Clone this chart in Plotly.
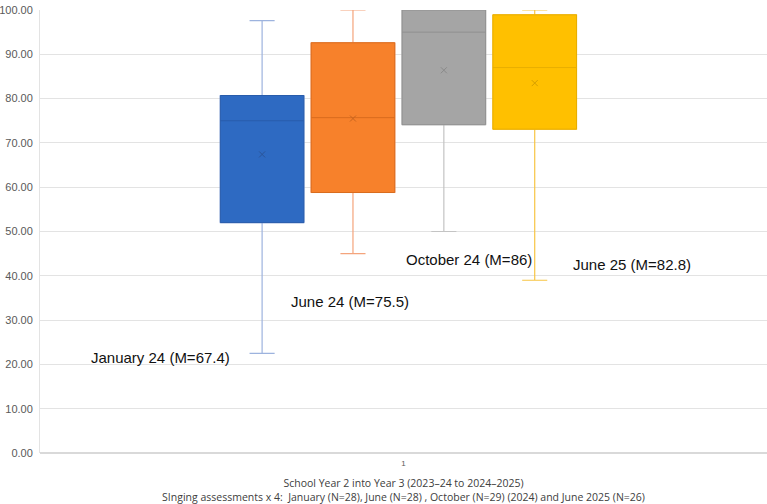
import plotly.graph_objects as go

# ---- data ----
series = ["January 24", "June 24", "October 24", "June 25"]
lower = [22.5, 45.0, 50.0, 39.0]
q1 = [52.0, 58.8, 74.1, 73.1]
median = [75.0, 75.7, 95.0, 87.0]
q3 = [80.7, 92.6, 100.0, 98.9]
upper = [97.6, 100.0, 100.0, 100.0]
means = [67.4, 75.5, 86.4, 83.5]
labels = ["January 24 (M=67.4)", "June 24 (M=75.5)", "October 24 (M=86)", "June 25 (M=82.8)"]
tick_labels = ["1"]

# ---- styles ----
fills = ["#2E6AC2", "#F7812B", "#A5A5A5", "#FFC000"]
med_cols = ["#285CAB", "#D96C1E", "#909090", "#E8AE00"]
whisk_cols = ["#9DB3DE", "#F4A47C", "#C4C4C4", "#F7C544"]
mean_cols = ["#2A5599", "#C8651F", "#8A8A8A", "#D49E00"]
label_pos = [(0.068, 21.6), (0.343, 34.3), (0.500, 43.7), (0.731, 42.6)]

n = len(series)
group_frac = 0.5
slot = group_frac / n
positions = [-group_frac / 2 + slot * (i + 0.5) - 0.007 for i in range(n)]
box_w = slot * 0.92

fig = go.Figure()
for i in range(n):
    fig.add_trace(go.Box(
        x=[positions[i]], q1=[q1[i]], median=[median[i]], q3=[q3[i]],
        lowerfence=[lower[i]], upperfence=[upper[i]],
        width=box_w, whiskerwidth=0.3, fillcolor=fills[i],
        line=dict(color=whisk_cols[i], width=1.2), boxpoints=False,
        showlegend=False, hoverinfo="skip"))
    fig.add_trace(go.Box(
        x=[positions[i]], q1=[q1[i]], median=[median[i]], q3=[q3[i]],
        lowerfence=[q1[i]], upperfence=[q3[i]],
        width=box_w, whiskerwidth=0, fillcolor=fills[i],
        line=dict(color=med_cols[i], width=1), boxpoints=False,
        showlegend=False, name=series[i]))
    fig.add_trace(go.Scatter(
        x=[positions[i]], y=[means[i]], mode="markers",
        marker=dict(symbol="x-thin", size=6, line=dict(color=mean_cols[i], width=1)),
        showlegend=False, hoverinfo="skip"))

for (px, py), txt in zip(label_pos, labels):
    fig.add_annotation(x=px, y=py, xref="paper", yref="y", text=txt, showarrow=False,
                       xanchor="left", yanchor="middle",
                       font=dict(family="Liberation Sans, Arial", size=15, color="#111111"))

fig.update_layout(
    width=767, height=504, margin=dict(l=40, r=0, t=10, b=51),
    paper_bgcolor="white", plot_bgcolor="white", boxmode="overlay",
    font=dict(family="Liberation Sans, Arial", color="#595959"),
    xaxis=dict(range=[-0.5, 0.5], tickvals=[0], ticktext=tick_labels, showgrid=False,
               zeroline=False, showline=False, ticks="", tickfont=dict(size=8, color="#595959"),
               ticklabelstandoff=4,
               title=dict(text="School Year 2 into Year 3 (2023\u201324 to 2024\u20132025)<br>"
                               "SInging assessments x 4:  January (N=28), June (N=28) , October (N=29) (2024) and June 2025 (N=26)",
                          font=dict(family="Open Sans", size=10.5, color="#404040"), standoff=13)),
    yaxis=dict(range=[0, 100], dtick=10, tickformat=".2f", gridcolor="#E3E3E3", gridwidth=1,
               zeroline=True, zerolinecolor="#D9D9D9", showline=True, linecolor="#E3E3E3",
               ticks="", tickfont=dict(size=11, color="#595959"), ticklabelstandoff=4),
)

fig.write_html("out.html")
